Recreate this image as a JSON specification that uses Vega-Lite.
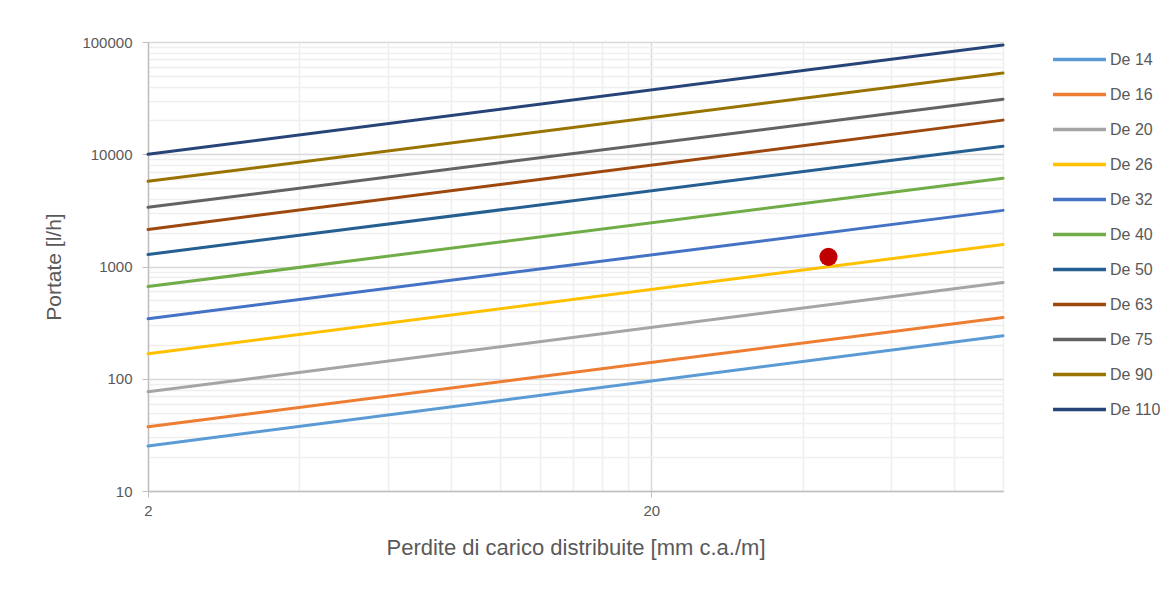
{
  "$schema": "https://vega.github.io/schema/vega-lite/v6.json",
  "width": 855,
  "height": 449,
  "autosize": {"type": "none"},
  "padding": {"left": 148, "top": 42, "right": 173, "bottom": 98},
  "background": "white",
  "config": {
    "view": {"stroke": null},
    "font": "Liberation Sans, Arial, sans-serif"
  },
  "layer": [
    {
      "data": {
        "values": [
          {"series": "De 14", "perdite": 2, "portata": 25.2},
          {"series": "De 14", "perdite": 100, "portata": 242},
          {"series": "De 16", "perdite": 2, "portata": 37.3},
          {"series": "De 16", "perdite": 100, "portata": 351},
          {"series": "De 20", "perdite": 2, "portata": 76.6},
          {"series": "De 20", "perdite": 100, "portata": 720},
          {"series": "De 26", "perdite": 2, "portata": 167},
          {"series": "De 26", "perdite": 100, "portata": 1572},
          {"series": "De 32", "perdite": 2, "portata": 343},
          {"series": "De 32", "perdite": 100, "portata": 3162},
          {"series": "De 40", "perdite": 2, "portata": 663},
          {"series": "De 40", "perdite": 100, "portata": 6105},
          {"series": "De 50", "perdite": 2, "portata": 1280},
          {"series": "De 50", "perdite": 100, "portata": 11790},
          {"series": "De 63", "perdite": 2, "portata": 2140},
          {"series": "De 63", "perdite": 100, "portata": 20140},
          {"series": "De 75", "perdite": 2, "portata": 3365},
          {"series": "De 75", "perdite": 100, "portata": 30970},
          {"series": "De 90", "perdite": 2, "portata": 5740},
          {"series": "De 90", "perdite": 100, "portata": 52840},
          {"series": "De 110", "perdite": 2, "portata": 10000},
          {"series": "De 110", "perdite": 100, "portata": 94000}
        ]
      },
      "mark": {"type": "line", "strokeWidth": 3, "strokeCap": "round"},
      "encoding": {
        "x": {
          "field": "perdite",
          "type": "quantitative",
          "scale": {"type": "log", "domain": [2, 100], "nice": false},
          "axis": {
            "title": "Perdite di carico distribuite [mm c.a./m]",
            "titleFontSize": 22,
            "titleFontWeight": "normal",
            "titleColor": "#595959",
            "titlePadding": 19,
            "values": [2, 4, 6, 8, 10, 12, 14, 16, 18, 20, 40, 60, 80, 100],
            "labelExpr": "datum.value == 2 || datum.value == 20 ? datum.value : ''",
            "labelFlush": false,
            "labelFontSize": 15,
            "labelColor": "#595959",
            "labelPadding": 6,
            "domainColor": "#bfbfbf",
            "domainWidth": 1.5,
            "tickSize": 6,
            "tickColor": {"condition": {"test": "datum.value == 2 || datum.value == 20", "value": "#bfbfbf"}, "value": "transparent"},
            "grid": true,
            "gridColor": {"condition": {"test": "datum.value == 20", "value": "#d9d9d9"}, "value": "#efefef"},
            "gridWidth": 1.5
          }
        },
        "y": {
          "field": "portata",
          "type": "quantitative",
          "scale": {"type": "log", "domain": [10, 100000], "nice": false},
          "axis": {
            "title": "Portate [l/h]",
            "titleFontSize": 21,
            "titleFontWeight": "normal",
            "titleColor": "#595959",
            "titlePadding": 17,
            "values": [10, 20, 30, 40, 50, 60, 70, 80, 90, 100, 200, 300, 400, 500, 600, 700, 800, 900, 1000, 2000, 3000, 4000, 5000, 6000, 7000, 8000, 9000, 10000, 20000, 30000, 40000, 50000, 60000, 70000, 80000, 90000, 100000],
            "labelExpr": "indexof([10,100,1000,10000,100000], datum.value) >= 0 ? format(datum.value, 'd') : ''",
            "labelFlush": false,
            "labelFontSize": 15,
            "labelColor": "#595959",
            "labelPadding": 10,
            "domainColor": "#bfbfbf",
            "domainWidth": 1.5,
            "tickSize": 6,
            "tickColor": {"condition": {"test": "indexof([10,100,1000,10000,100000], datum.value) >= 0", "value": "#bfbfbf"}, "value": "transparent"},
            "grid": true,
            "gridColor": {"condition": {"test": "indexof([10,100,1000,10000,100000], datum.value) >= 0", "value": "#d9d9d9"}, "value": "#efefef"},
            "gridWidth": 1.5
          }
        },
        "color": {
          "field": "series",
          "type": "nominal",
          "scale": {
            "domain": ["De 14", "De 16", "De 20", "De 26", "De 32", "De 40", "De 50", "De 63", "De 75", "De 90", "De 110"],
            "range": ["#5B9BD5", "#ED7D31", "#A5A5A5", "#FFC000", "#4472C4", "#70AD47", "#255E91", "#9E480E", "#636363", "#997300", "#264478"]
          },
          "legend": {
            "title": null,
            "orient": "none",
            "legendX": 903,
            "legendY": 0,
            "symbolType": "stroke",
            "symbolSize": 2800,
            "symbolStrokeWidth": 3.5,
            "labelFontSize": 16,
            "labelColor": "#595959",
            "labelOffset": 2,
            "clipHeight": 35,
            "rowPadding": 0
          }
        }
      }
    },
    {
      "data": {"values": [{"perdite": 45, "portata": 1220}]},
      "mark": {"type": "point", "filled": true, "shape": "circle", "size": 330, "color": "#C00000", "opacity": 1},
      "encoding": {
        "x": {"field": "perdite", "type": "quantitative"},
        "y": {"field": "portata", "type": "quantitative"}
      }
    }
  ]
}
